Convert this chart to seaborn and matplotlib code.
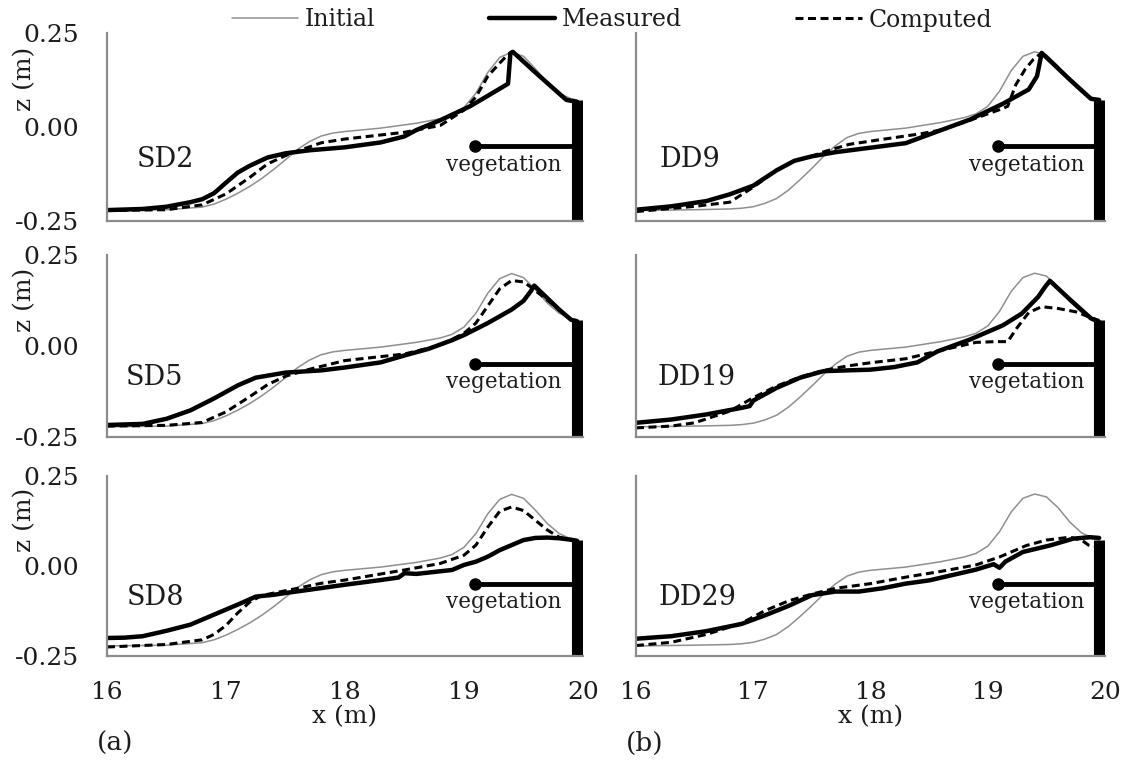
import matplotlib
matplotlib.use("Agg")
import matplotlib.pyplot as plt
from matplotlib.lines import Line2D
import seaborn as sns

sns.set_style("white")
plt.rcParams["font.family"] = ["DejaVu Serif", "DejaVu Sans"]
TXT = "#1c1c1c"

# ---------------- data ----------------
panel_names = ["SD2", "SD5", "SD8", "DD9", "DD19", "DD29"]
xticks = [16, 17, 18, 19, 20]
yticks = [-0.25, 0.0, 0.25]
ytick_labels = ["-0.25", "0.00", "0.25"]
legend_labels = ["Initial", "Measured", "Computed"]

init_x = [16.0, 16.5, 16.8, 16.9, 17.0, 17.1, 17.2, 17.3, 17.4, 17.5, 17.6, 17.7, 17.8, 17.9, 18.0,
          18.3, 18.6, 18.8, 18.9, 19.0, 19.1, 19.2, 19.3, 19.4, 19.5, 19.6, 19.7, 19.8, 19.9, 19.95]
init_sd_z = [-0.222, -0.220, -0.213, -0.205, -0.192, -0.176, -0.158, -0.137, -0.113, -0.087, -0.060,
             -0.039, -0.024, -0.016, -0.012, -0.003, 0.010, 0.022, 0.032, 0.052, 0.090, 0.145, 0.185,
             0.199, 0.188, 0.155, 0.118, 0.090, 0.075, 0.072]
init_dd_z = [-0.222, -0.220, -0.218, -0.216, -0.212, -0.203, -0.190, -0.168, -0.140, -0.110, -0.078,
             -0.050, -0.028, -0.017, -0.012, -0.003, 0.012, 0.025, 0.035, 0.055, 0.095, 0.150, 0.188,
             0.200, 0.192, 0.162, 0.122, 0.092, 0.077, 0.072]

sd2_meas_x = [16.0, 16.3, 16.5, 16.7, 16.8, 16.9, 17.0, 17.1, 17.2, 17.35, 17.5, 17.7, 18.0, 18.3, 18.5,
              18.6, 18.8, 19.05, 19.2, 19.37, 19.39, 19.41, 19.6, 19.86, 19.95]
sd2_meas_z = [-0.221, -0.218, -0.212, -0.200, -0.192, -0.176, -0.148, -0.121, -0.103, -0.081, -0.070,
              -0.062, -0.054, -0.041, -0.025, -0.008, 0.018, 0.055, 0.083, 0.115, 0.196, 0.200, 0.145,
              0.072, 0.067]
sd2_comp_x = [16.0, 16.5, 16.8, 17.0, 17.2, 17.35, 17.5, 17.6, 17.8, 18.0, 18.5, 18.8, 19.0, 19.1,
              19.2, 19.3, 19.37, 19.41, 19.6, 19.86, 19.95]
sd2_comp_z = [-0.222, -0.220, -0.207, -0.178, -0.134, -0.098, -0.076, -0.064, -0.042, -0.032, -0.014,
              0.004, 0.045, 0.080, 0.135, 0.170, 0.193, 0.200, 0.145, 0.072, 0.067]

sd5_meas_x = [16.0, 16.3, 16.5, 16.7, 16.9, 17.1, 17.25, 17.5, 17.8, 18.0, 18.3, 18.5, 18.7, 18.9, 19.0,
              19.2, 19.4, 19.5, 19.56, 19.59, 19.8, 19.9, 19.95]
sd5_meas_z = [-0.217, -0.214, -0.200, -0.177, -0.144, -0.108, -0.087, -0.073, -0.067, -0.059, -0.045,
              -0.026, -0.008, 0.016, 0.030, 0.063, 0.100, 0.124, 0.150, 0.166, 0.100, 0.072, 0.068]
sd5_comp_x = [16.0, 16.5, 16.8, 17.0, 17.2, 17.35, 17.5, 17.7, 18.0, 18.5, 18.8, 19.0, 19.1, 19.2, 19.3,
              19.4, 19.5, 19.57, 19.8, 19.9, 19.95]
sd5_comp_z = [-0.220, -0.218, -0.210, -0.181, -0.139, -0.106, -0.083, -0.064, -0.040, -0.022, 0.002,
              0.035, 0.063, 0.110, 0.157, 0.180, 0.176, 0.160, 0.100, 0.072, 0.068]

sd8_meas_x = [16.0, 16.15, 16.3, 16.5, 16.7, 16.9, 17.1, 17.25, 17.4, 17.5, 17.7, 18.0, 18.3, 18.45, 18.5,
              18.6, 18.9, 19.0, 19.1, 19.2, 19.3, 19.4, 19.5, 19.6, 19.7, 19.8, 19.9, 19.95]
sd8_meas_z = [-0.200, -0.199, -0.195, -0.180, -0.163, -0.135, -0.107, -0.085, -0.080, -0.075, -0.066,
              -0.052, -0.039, -0.032, -0.020, -0.022, -0.011, 0.003, 0.012, 0.026, 0.044, 0.058, 0.072,
              0.078, 0.079, 0.077, 0.073, 0.070]
sd8_comp_x = [16.0, 16.5, 16.8, 16.9, 17.0, 17.1, 17.2, 17.3, 17.6, 17.8, 18.0, 18.5, 18.8, 19.0, 19.1,
              19.2, 19.3, 19.4, 19.5, 19.6, 19.7, 19.8, 19.9, 19.95]
sd8_comp_z = [-0.225, -0.218, -0.205, -0.190, -0.165, -0.130, -0.100, -0.082, -0.062, -0.048, -0.039,
              -0.011, 0.007, 0.030, 0.058, 0.108, 0.152, 0.164, 0.154, 0.127, 0.100, 0.080, 0.073, 0.070]

dd9_meas_x = [16.0, 16.3, 16.6, 16.8, 17.0, 17.2, 17.35, 17.5, 17.7, 18.0, 18.3, 18.57, 18.85, 19.13,
              19.35, 19.42, 19.46, 19.7, 19.88, 19.95]
dd9_meas_z = [-0.220, -0.211, -0.197, -0.179, -0.156, -0.115, -0.090, -0.078, -0.067, -0.055, -0.043,
              -0.012, 0.020, 0.062, 0.100, 0.135, 0.197, 0.126, 0.075, 0.072]
dd9_comp_x = [16.0, 16.5, 16.8, 17.0, 17.2, 17.35, 17.5, 17.6, 17.82, 18.12, 18.43, 18.6, 18.85, 19.0,
              19.1, 19.17, 19.24, 19.32, 19.39, 19.46, 19.7, 19.88, 19.95]
dd9_comp_z = [-0.225, -0.211, -0.200, -0.160, -0.115, -0.090, -0.078, -0.066, -0.046, -0.032, -0.018,
              -0.008, 0.018, 0.035, 0.046, 0.055, 0.113, 0.154, 0.180, 0.197, 0.126, 0.075, 0.072]

dd19_meas_x = [16.0, 16.3, 16.6, 16.9, 16.97, 17.0, 17.2, 17.4, 17.6, 17.8, 18.0, 18.2, 18.4, 18.57,
               18.85, 19.13, 19.29, 19.43, 19.49, 19.53, 19.7, 19.88, 19.95]
dd19_meas_z = [-0.211, -0.202, -0.188, -0.170, -0.165, -0.150, -0.115, -0.087, -0.069, -0.067, -0.065,
               -0.058, -0.045, -0.015, 0.018, 0.057, 0.089, 0.135, 0.163, 0.179, 0.128, 0.076, 0.066]
dd19_comp_x = [16.0, 16.3, 16.5, 16.8, 17.0, 17.2, 17.4, 17.6, 17.8, 18.0, 18.3, 18.6, 18.9, 19.07,
               19.17, 19.25, 19.35, 19.46, 19.6, 19.75, 19.88, 19.95]
dd19_comp_z = [-0.225, -0.220, -0.211, -0.179, -0.142, -0.110, -0.085, -0.067, -0.055, -0.046, -0.035,
               -0.012, 0.010, 0.012, 0.012, 0.050, 0.092, 0.108, 0.103, 0.094, 0.078, 0.070]

dd29_meas_x = [16.0, 16.3, 16.6, 16.9, 17.1, 17.3, 17.5, 17.7, 17.9, 18.1, 18.3, 18.5, 18.7, 18.9, 19.05,
               19.1, 19.15, 19.3, 19.53, 19.73, 19.87, 19.95]
dd29_meas_z = [-0.202, -0.195, -0.181, -0.161, -0.137, -0.111, -0.081, -0.071, -0.071, -0.062, -0.049,
               -0.040, -0.025, -0.010, 0.005, -0.005, 0.012, 0.039, 0.057, 0.076, 0.080, 0.078]
dd29_comp_x = [16.0, 16.3, 16.6, 16.9, 17.1, 17.3, 17.5, 17.7, 18.0, 18.3, 18.6, 18.9, 19.1, 19.33, 19.5,
               19.7, 19.8, 19.86, 19.92]
dd29_comp_z = [-0.221, -0.212, -0.190, -0.159, -0.124, -0.097, -0.078, -0.062, -0.049, -0.031, -0.015,
               0.003, 0.025, 0.057, 0.072, 0.080, 0.072, 0.058, 0.055]

meas_x = [sd2_meas_x, sd5_meas_x, sd8_meas_x, dd9_meas_x, dd19_meas_x, dd29_meas_x]
meas_z = [sd2_meas_z, sd5_meas_z, sd8_meas_z, dd9_meas_z, dd19_meas_z, dd29_meas_z]
comp_x = [sd2_comp_x, sd5_comp_x, sd8_comp_x, dd9_comp_x, dd19_comp_x, dd29_comp_x]
comp_z = [sd2_comp_z, sd5_comp_z, sd8_comp_z, dd9_comp_z, dd19_comp_z, dd29_comp_z]
init_z = [init_sd_z] * 3 + [init_dd_z] * 3

# vegetation marker (data coordinates)
veg_x0, veg_x1, veg_z = 19.09, 19.95, -0.05
wall_x, wall_top = 19.95, 0.072
veg_text_x, veg_text_z = 19.33, -0.10
name_x = [16.25, 16.16, 16.17, 16.2, 16.18, 16.19]
name_z = -0.087

# ---------------- layout ----------------
W, H = 1127, 767
fig = plt.figure(figsize=(W / 100, H / 100), dpi=100)
cols = [(107, 583), (636, 1105)]
rows = [(33, 221), (255, 437), (476, 656)]

SPINE = "#8c8c8c"
for i, name in enumerate(panel_names):
    c, r = divmod(i, 3)
    x0, x1 = cols[c]
    y0, y1 = rows[r]
    ax = fig.add_axes([x0 / W, 1 - y1 / H, (x1 - x0) / W, (y1 - y0) / H])

    sns.lineplot(x=init_x, y=init_z[i], ax=ax, color="#8f8f8f", lw=1.1, sort=False, estimator=None)
    sns.lineplot(x=comp_x[i], y=comp_z[i], ax=ax, color="black", lw=2.2, sort=False, estimator=None)
    ax.lines[-1].set_dashes([2.6, 1.5])
    sns.lineplot(x=meas_x[i], y=meas_z[i], ax=ax, color="black", lw=3.2, sort=False, estimator=None)

    # vegetation marker
    ax.plot([veg_x0, veg_x1], [veg_z, veg_z], color="black", lw=3.5, solid_capstyle="butt")
    ax.plot([veg_x0], [veg_z], "o", color="black", ms=8)
    ax.plot([wall_x, wall_x], [-0.25, wall_top], color="black", lw=8, solid_capstyle="butt")
    ax.text(veg_text_x, veg_text_z, "vegetation", ha="center", va="center", fontsize=15.5, color=TXT)
    ax.text(name_x[i], name_z, name, ha="left", va="center", fontsize=19.5, color=TXT)

    ax.set_xlim(16, 20)
    ax.set_ylim(-0.25, 0.25)
    ax.set_xticks(xticks)
    ax.set_yticks(yticks)
    for s in ["top", "right"]:
        ax.spines[s].set_visible(False)
    for s in ["left", "bottom"]:
        ax.spines[s].set_color(SPINE)
        ax.spines[s].set_linewidth(1.6)
    ax.tick_params(direction="in", length=6, width=1.4, color=SPINE, labelsize=18,
                   labelcolor=TXT)
    ax.tick_params(axis="y", pad=20)
    ax.tick_params(axis="x", pad=18)
    ax.set_xlabel("")
    ax.set_ylabel("")
    if c == 0:
        ax.set_yticklabels(ytick_labels)
        ax.set_ylabel("z (m)", fontsize=18, color=TXT)
        ax.yaxis.label.set_va("center")
        ax.yaxis.set_label_coords(-0.172, 0.755)
    else:
        ax.set_yticklabels([])
    if r == 2:
        ax.set_xticklabels([str(t) for t in xticks])
        ax.set_xlabel("x (m)", fontsize=18, color=TXT)
        ax.xaxis.set_label_coords(0.5, -0.335)
        ax.xaxis.label.set_va("center")
    else:
        ax.set_xticklabels([])

fig.text(115 / W, 1 - 743 / H, "(a)", ha="center", va="center", fontsize=19, color=TXT)
fig.text(645 / W, 1 - 743 / H, "(b)", ha="center", va="center", fontsize=19, color=TXT)

handles = [
    Line2D([], [], color="#8f8f8f", lw=1.1),
    Line2D([], [], color="black", lw=3.2),
    Line2D([], [], color="black", lw=2.2, dashes=[2.6, 1.5]),
]
leg = fig.legend(handles, legend_labels, loc="center", bbox_to_anchor=(0.543, 1 - 20 / H), ncol=3,
                 frameon=False, fontsize=17, handlelength=2.8, handletextpad=0.3, columnspacing=4.8,
                 borderpad=0)
for t in leg.get_texts():
    t.set_color(TXT)

fig.savefig("out.png", dpi=100)
